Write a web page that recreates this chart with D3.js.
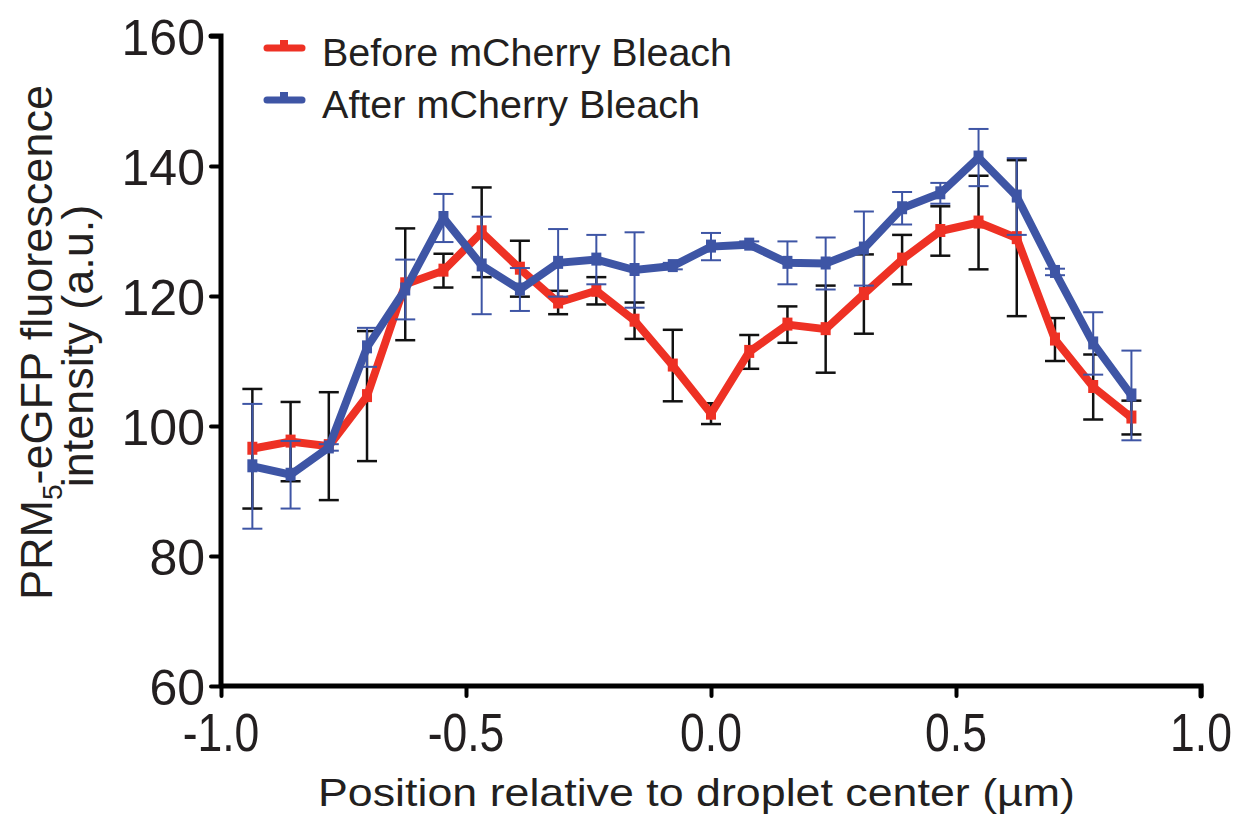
<!DOCTYPE html>
<html>
<head>
<meta charset="utf-8">
<script src="https://cdn.jsdelivr.net/npm/d3@7"></script>
<style>
  body { margin: 0; background: #fff; }
  text { font-family: "Liberation Sans", Arial, sans-serif; fill: #231f20; }
</style>
</head>
<body>
<svg width="1236" height="818"></svg>
<script>
// positions along the line profile (um)
var positions = [-0.936, -0.858, -0.780, -0.702, -0.624, -0.546, -0.468, -0.390,
  -0.312, -0.234, -0.156, -0.078, 0.000, 0.078, 0.156, 0.234, 0.312, 0.390,
  0.468, 0.546, 0.624, 0.702, 0.780, 0.858];

// before mCherry bleach
var before = [96.5, 97.6, 96.9, 104.6, 121.8, 123.9, 129.8, 124.2, 119.0, 120.8, 116.2, 109.3,
  101.9, 111.4, 115.6, 114.9, 120.3, 125.6, 130.0, 131.3, 128.9, 113.3, 106.0, 101.3];
var beforeErr = [9.2, 6.1, 8.3, 10.0, 8.6, 2.6, 6.9, 4.3, 1.8, 2.1, 2.8, 5.5,
  1.6, 2.6, 2.8, 6.7, 6.1, 3.8, 3.8, 7.2, 12.0, 3.3, 5.0, 2.6];

// after mCherry bleach
var after = [93.8, 92.5, 96.7, 112.1, 121.0, 132.0, 124.7, 121.0, 125.1, 125.6, 124.0, 124.6,
  127.6, 127.9, 125.1, 125.0, 127.3, 133.5, 135.8, 141.3, 135.3, 123.7, 112.7, 104.7];
var afterErr = [9.6, 5.2, 0.5, 3.0, 4.6, 3.7, 7.5, 3.3, 5.2, 3.8, 5.8, 0.5,
  2.1, 0.5, 3.3, 4.0, 5.7, 2.5, 1.6, 4.4, 5.9, 0.5, 4.8, 6.9];

var xTicks = [-1.0, -0.5, 0.0, 0.5, 1.0];
var yTicks = [60, 80, 100, 120, 140, 160];

var red = '#ee3124', blue = '#3e55a5';

var svg = d3.select('svg');

var x = d3.scaleLinear().domain([-1, 1]).range([221, 1201]);
var y = d3.scaleLinear().domain([60, 160]).range([686, 36]);

var line = d3.line()
  .x(function (d) { return x(d.p); })
  .y(function (d) { return y(d.v); });

function rows(vals, errs) {
  return positions.map(function (p, i) { return { p: p, v: vals[i], e: errs[i] }; });
}

function errorBars(data, color, width) {
  var g = svg.append('g').attr('stroke', color).attr('stroke-width', width);
  g.selectAll('.v').data(data).enter().append('line')
    .attr('x1', function (d) { return x(d.p); })
    .attr('x2', function (d) { return x(d.p); })
    .attr('y1', function (d) { return y(d.v + d.e); })
    .attr('y2', function (d) { return y(d.v - d.e); });
  [1, -1].forEach(function (s) {
    g.selectAll('.c' + s).data(data).enter().append('line')
      .attr('x1', function (d) { return x(d.p) - 10; })
      .attr('x2', function (d) { return x(d.p) + 10; })
      .attr('y1', function (d) { return y(d.v + s * d.e); })
      .attr('y2', function (d) { return y(d.v + s * d.e); });
  });
}

function series(data, color) {
  svg.append('path').datum(data)
    .attr('fill', 'none')
    .attr('stroke', color)
    .attr('stroke-width', 8)
    .attr('stroke-linejoin', 'miter')
    .attr('d', line);
  svg.append('g').selectAll('rect').data(data).enter().append('rect')
    .attr('x', function (d) { return x(d.p) - 5; })
    .attr('y', function (d) { return y(d.v) - 7; })
    .attr('width', 10)
    .attr('height', 13)
    .attr('fill', color);
}

var beforeData = rows(before, beforeErr);
var afterData = rows(after, afterErr);

errorBars(beforeData, '#111', 2.5);
series(beforeData, red);
errorBars(afterData, blue, 2);
series(afterData, blue);

// axes
var yAxis = svg.append('g').attr('transform', 'translate(221,0)')
  .call(d3.axisLeft(y).tickValues(yTicks).tickSize(10).tickPadding(6).tickFormat(d3.format('d')));
yAxis.selectAll('text').style('font-size', '50px').attr('dy', '0.36em');

var xAxis = svg.append('g').attr('transform', 'translate(0,686)')
  .call(d3.axisBottom(x).tickValues(xTicks).tickSize(10).tickPadding(0).tickFormat(d3.format('.1f')));
xAxis.selectAll('text').remove();

[yAxis, xAxis].forEach(function (a) {
  a.select('.domain').attr('stroke', '#000').attr('stroke-width', 5).attr('stroke-linecap', 'round');
  a.selectAll('.tick line').attr('stroke', '#000').attr('stroke-width', 4).attr('stroke-linecap', 'round');
});
yAxis.select('.domain').attr('d', 'M-10,36H0V686');
xAxis.select('.domain').attr('d', 'M221,0H1201V10');

svg.append('g').selectAll('text').data(xTicks).enter().append('text')
  .attr('transform', function (d) { return 'translate(' + x(d) + ',751) scale(0.84,1)'; })
  .attr('text-anchor', 'middle')
  .style('font-size', '53px')
  .text(function (d) { return d3.format('.1f')(d).replace('−', '-'); });

// axis titles
svg.append('text')
  .attr('x', 318).attr('y', 806)
  .attr('textLength', 757).attr('lengthAdjust', 'spacingAndGlyphs')
  .style('font-size', '39px')
  .text('Position relative to droplet center (µm)');

var yt = svg.append('text')
  .attr('transform', 'translate(52,600) rotate(-90)')
  .style('font-size', '45px');
yt.append('tspan').text('PRM');
yt.append('tspan').attr('dy', 10).style('font-size', '28px').text('5');
yt.append('tspan').attr('dy', -10).text('-eGFP fluorescence');

svg.append('text')
  .attr('transform', 'translate(93,346) rotate(-90)')
  .attr('text-anchor', 'middle')
  .style('font-size', '45px')
  .text('intensity (a.u.)');

// legend
var legend = [
  { label: 'Before mCherry Bleach', color: red, y: 48, w: 410 },
  { label: 'After mCherry Bleach', color: blue, y: 100, w: 378 }
];
legend.forEach(function (l) {
  svg.append('line').attr('x1', 267).attr('x2', 302).attr('y1', l.y).attr('y2', l.y)
    .attr('stroke', l.color).attr('stroke-width', 7).attr('stroke-linecap', 'round');
  svg.append('rect').attr('x', 280).attr('y', l.y - 8).attr('width', 8).attr('height', 8).attr('fill', l.color);
  svg.append('text').attr('x', 322).attr('y', l.y + 18)
    .attr('textLength', l.w).attr('lengthAdjust', 'spacingAndGlyphs')
    .style('font-size', '39px').text(l.label);
});
</script>
</body>
</html>
